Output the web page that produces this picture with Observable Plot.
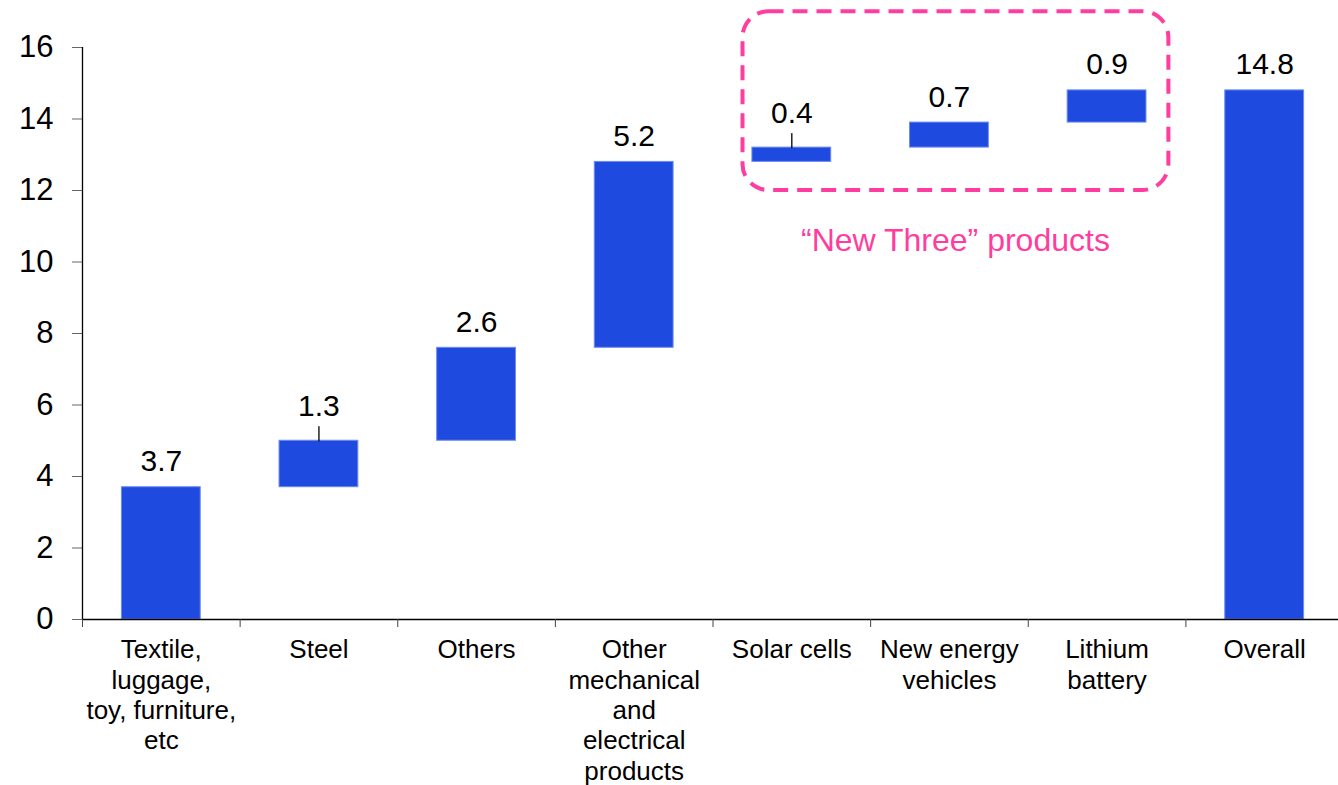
<!DOCTYPE html>
<html>
<head>
<meta charset="utf-8">
<script src="https://cdn.jsdelivr.net/npm/d3@7"></script>
<script src="https://cdn.jsdelivr.net/npm/@observablehq/plot@0.6"></script>
<style>
  html, body { margin: 0; padding: 0; background: #fff; }
  #chart svg { display: block; }
</style>
</head>
<body>
<div id="chart"></div>
<script>
// Export growth contributions by product group (percentage points)
const categories = [
  "Textile,\nluggage,\ntoy, furniture,\netc",
  "Steel",
  "Others",
  "Other\nmechanical\nand\nelectrical\nproducts",
  "Solar cells",
  "New energy\nvehicles",
  "Lithium\nbattery",
  "Overall"
];
const values = [3.7, 1.3, 2.6, 5.2, 0.4, 0.7, 0.9, 14.8];
const valueLabels = ["3.7", "1.3", "2.6", "5.2", "0.4", "0.7", "0.9", "14.8"];
const totalCategory = "Overall";
const leaderCategories = ["Steel", "Solar cells"];
const newThree = ["Solar cells", "New energy\nvehicles", "Lithium\nbattery"];
const newThreeLabel = "\u201CNew Three\u201D products";
const yTicks = [0, 2, 4, 6, 8, 10, 12, 14, 16];

// Waterfall steps: each increment starts where the previous one ended,
// the total bar starts from zero.
let running = 0;
const steps = categories.map((name, i) => {
  const isTotal = name === totalCategory;
  const base = isTotal ? 0 : running;
  const top = isTotal ? values[i] : running + values[i];
  if (!isTotal) running = top;
  return {name, i, base, top, label: valueLabels[i], leader: leaderCategories.includes(name)};
});

const blue = "#1f4ae0";
const pink = "#ff3d9e";
const font = "Liberation Sans, Arial, Helvetica, sans-serif";

const first = categories.indexOf(newThree[0]);
const last = categories.indexOf(newThree[newThree.length - 1]);
const groupBox = [{x1: first, x2: last + 1, y1: 12, y2: 17}];

const chart = Plot.plot({
  width: 1338,
  height: 785,
  marginLeft: 82,
  marginRight: -5,
  marginTop: 47,
  marginBottom: 166,
  style: {fontFamily: font, background: "#fff", overflow: "visible"},
  x: {domain: [0, categories.length], axis: null},
  y: {domain: [0, 16], axis: null},
  marks: [
    // "New Three" grouping box
    Plot.rect(groupBox, {
      x1: "x1", x2: "x2", y1: "y1", y2: "y2",
      insetLeft: 30, insetRight: 17,
      rx: 26,
      fill: "none", stroke: pink, strokeWidth: 4, strokeDasharray: "15,9"
    }),
    Plot.text([newThreeLabel], {
      x: (first + last + 1) / 2, y: 12, text: d => d,
      dy: 50, dx: 6, lineAnchor: "middle",
      fontSize: 32, fill: pink
    }),
    // bars
    Plot.rect(steps, {
      x1: d => d.i + 0.25, x2: d => d.i + 0.75,
      y1: "base", y2: "top",
      fill: blue, stroke: "#6d8cf0", strokeWidth: 1
    }),
    // leader lines for small steps
    Plot.vector(steps.filter(d => d.leader), {
      x: d => d.i + 0.5, y: "top", length: 14, anchor: "start",
      stroke: "black", strokeWidth: 1.3,
      shape: {draw(context, l) { context.moveTo(0, 0); context.lineTo(0, -l); }}
    }),
    // value labels
    Plot.text(steps.filter(d => !d.leader), {
      x: d => d.i + 0.5, y: "top", text: "label",
      lineAnchor: "bottom", dy: -16, fontSize: 30, fill: "black"
    }),
    Plot.text(steps.filter(d => d.leader), {
      x: d => d.i + 0.5, y: "top", text: "label",
      lineAnchor: "bottom", dy: -25, fontSize: 30, fill: "black"
    }),
    // y axis
    Plot.axisY({ticks: yTicks, tickSize: 10, tickPadding: 19, fontSize: 31, stroke: "#666", fill: "black", tickFormat: d => String(d)}),
    Plot.ruleX([0], {stroke: "black", strokeWidth: 1.3}),
    // x axis with ticks at category boundaries
    Plot.ruleY([0], {stroke: "black", strokeWidth: 1.3}),
    Plot.axisX({ticks: d3.range(0, categories.length + 1), tickSize: 8, stroke: "#444", tickFormat: () => ""}),
    Plot.text(categories, {
      x: (d, i) => i + 0.5, y: 0, text: d => d,
      lineAnchor: "top", dy: 17, lineHeight: 1.17,
      fontSize: 26, fill: "black"
    })
  ]
});

document.getElementById("chart").append(chart);
</script>
</body>
</html>
